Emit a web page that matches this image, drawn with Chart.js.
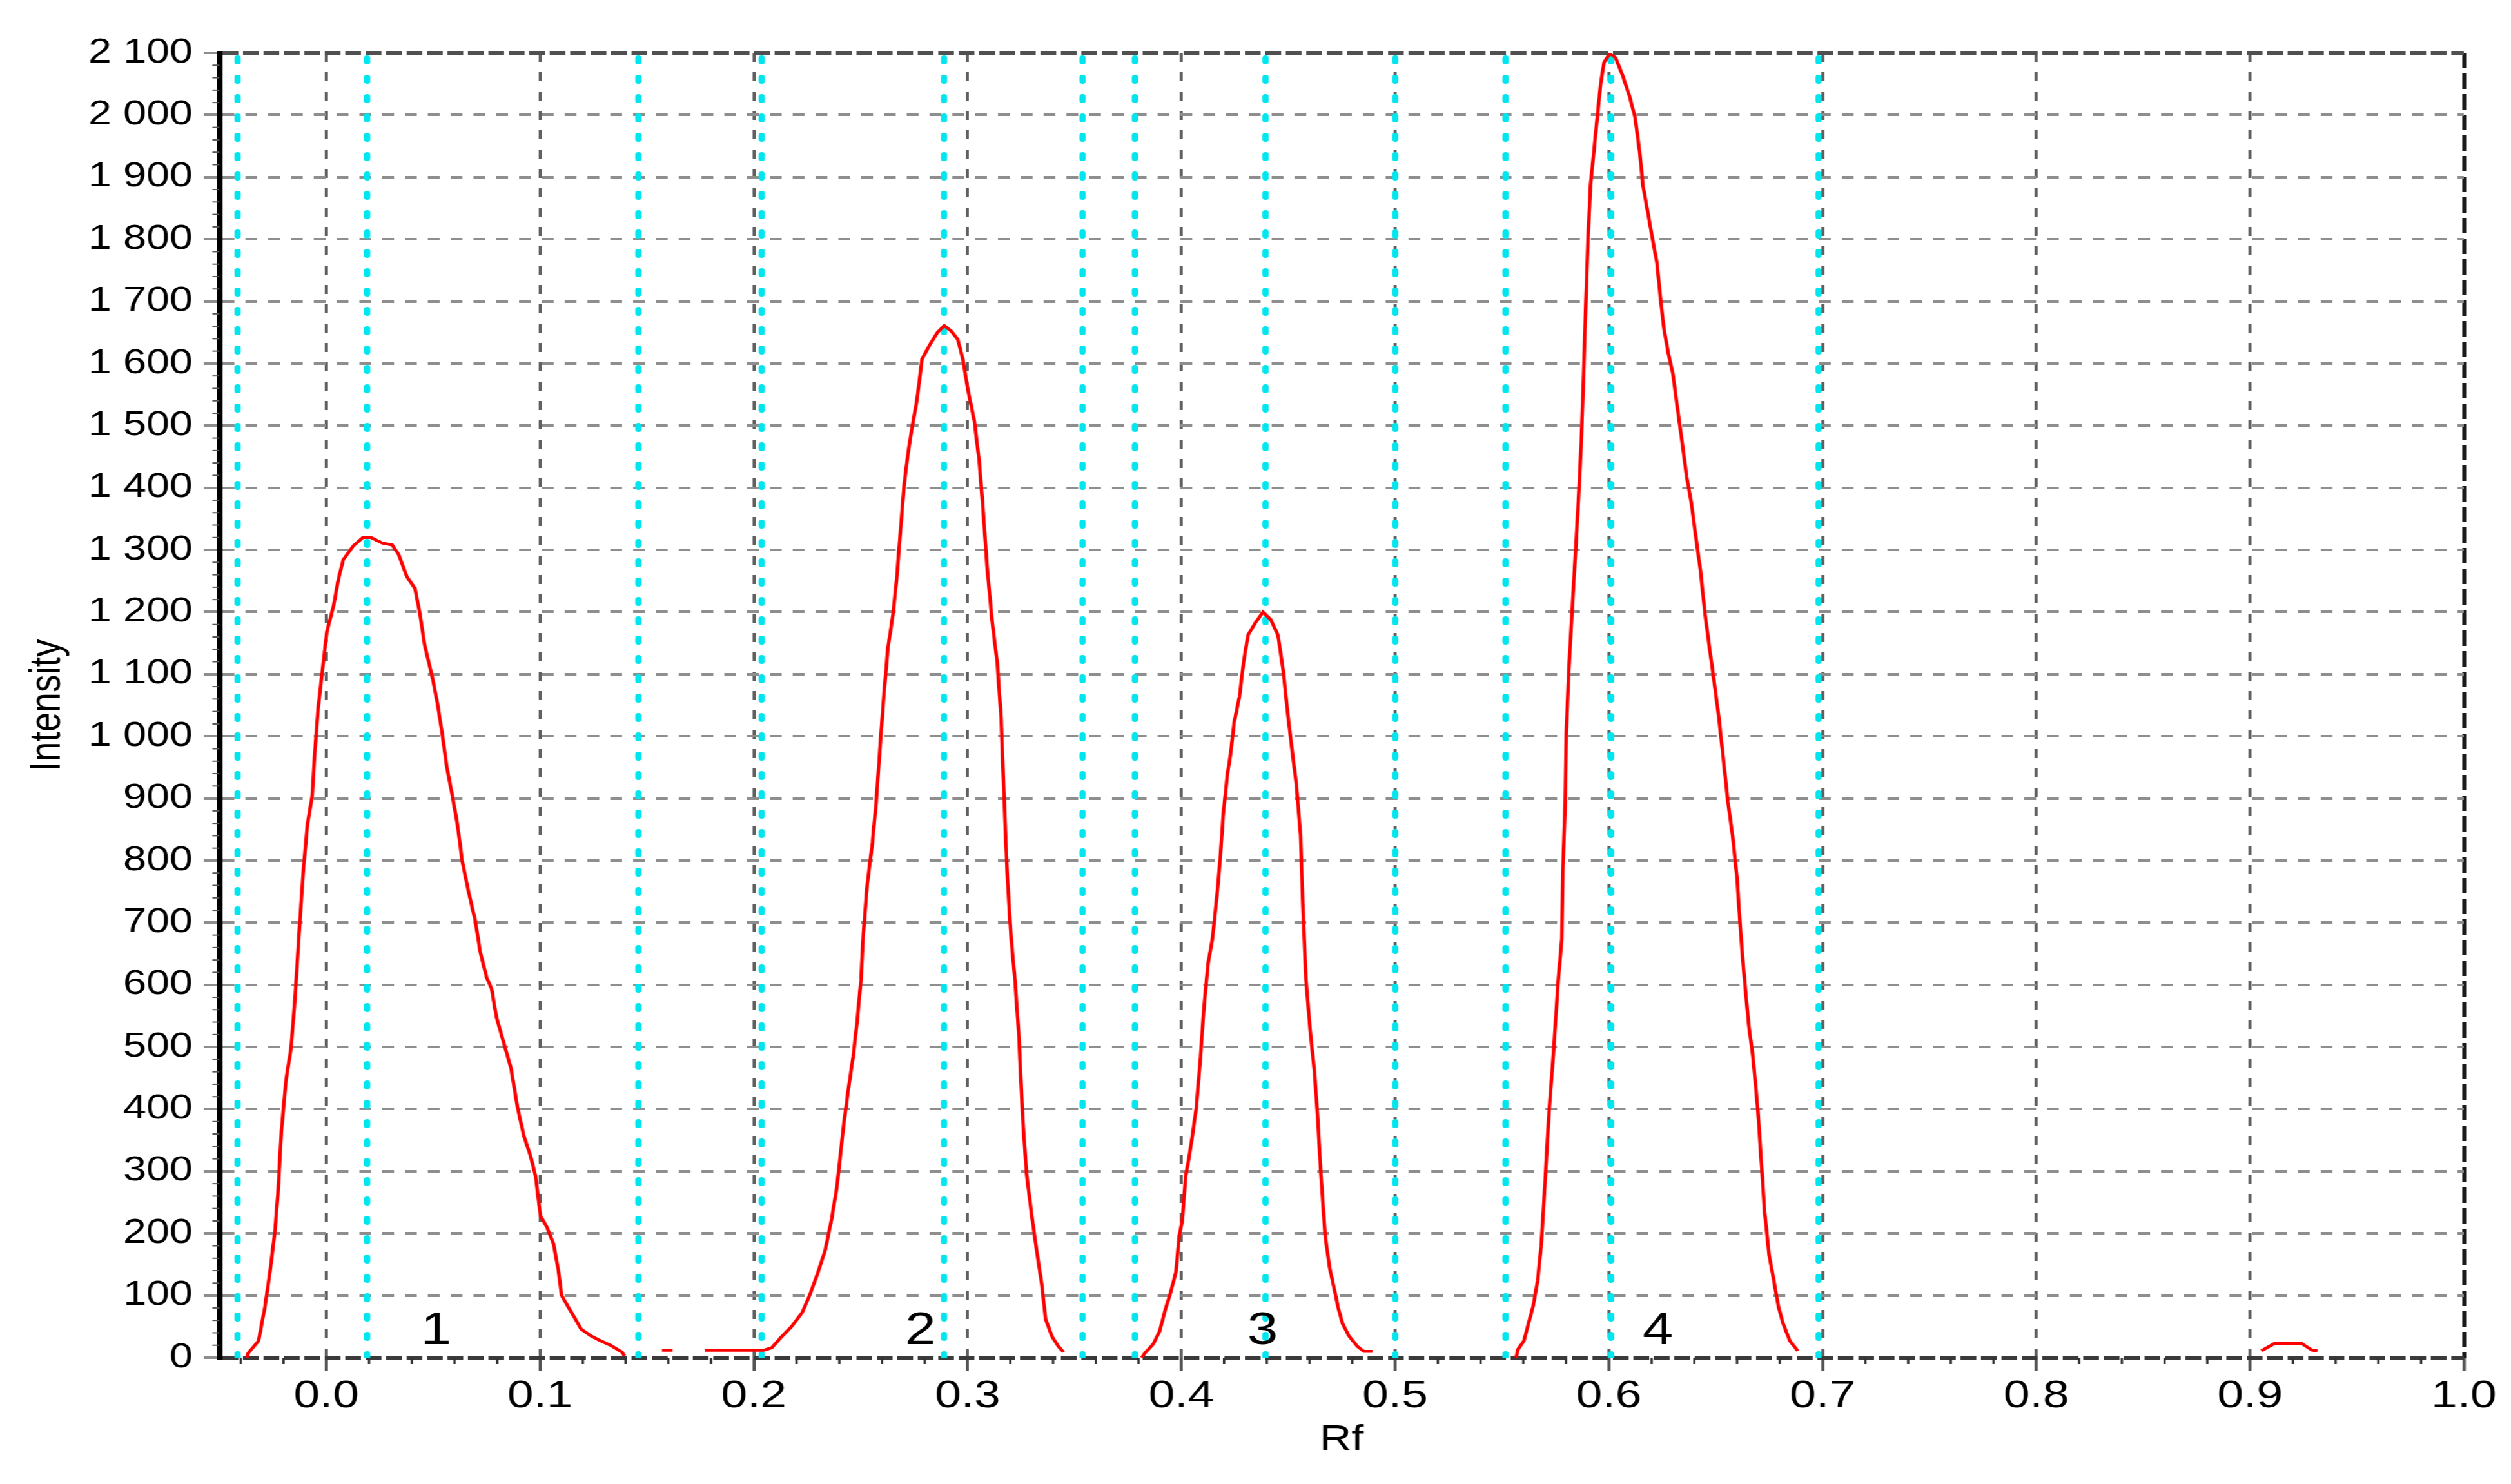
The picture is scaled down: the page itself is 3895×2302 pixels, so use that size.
<!DOCTYPE html>
<html>
<head>
<meta charset="utf-8">
<script src="https://cdn.jsdelivr.net/npm/chart.js@4.4.1/dist/chart.umd.min.js"></script>
<style>
  html, body { margin: 0; padding: 0; background: #ffffff; overflow: hidden; }
  #wrap { width: 3895px; height: 2302px; overflow: hidden; background: #ffffff; }
  #c { transform: scaleX(1.21986); transform-origin: 0 0; }
</style>
</head>
<body>
<div id="wrap"><canvas id="c" width="3193" height="2302"></canvas></div>
<script>
// ---------- data ----------
const peak1Rf = [-0.0370, -0.0366, -0.0317, -0.0287, -0.0264, -0.0241, -0.0226, -0.0210, -0.0188, -0.0165, -0.0146, -0.0127, -0.0107, -0.0088, -0.0066, -0.0055, -0.0038, -0.0020, 0.0003, 0.0034, 0.0056, 0.0079, 0.0125, 0.0171, 0.0209, 0.0262, 0.0308, 0.0338, 0.0377, 0.0415, 0.0438, 0.0460, 0.0498, 0.0521, 0.0544, 0.0564, 0.0590, 0.0613, 0.0636, 0.0666, 0.0697, 0.0720, 0.0750, 0.0773, 0.0796, 0.0834, 0.0864, 0.0895, 0.0925, 0.0956, 0.0979, 0.1002, 0.1032, 0.1063, 0.1085, 0.1101, 0.1131, 0.1162, 0.1192, 0.1238, 0.1284, 0.1329, 0.1383, 0.1395];
const peak1Intensity = [0, 7, 27, 82, 137, 201, 265, 365, 448, 498, 580, 685, 786, 859, 904, 968, 1046, 1101, 1169, 1210, 1252, 1284, 1306, 1320, 1320, 1311, 1308, 1293, 1257, 1238, 1197, 1147, 1092, 1051, 1000, 950, 904, 859, 799, 749, 703, 653, 612, 594, 548, 502, 466, 402, 356, 324, 292, 228, 210, 183, 142, 100, 82, 64, 46, 35, 27, 20, 9, 3];

const baselineRf = [0.1570, 0.1620];
const baselineIntensity = [12, 12];

const peak2Rf = [0.1770, 0.1900, 0.2048, 0.2084, 0.2131, 0.2179, 0.2227, 0.2262, 0.2298, 0.2334, 0.2364, 0.2388, 0.2406, 0.2418, 0.2441, 0.2465, 0.2483, 0.2501, 0.2513, 0.2531, 0.2555, 0.2573, 0.2591, 0.2609, 0.2627, 0.2651, 0.2668, 0.2686, 0.2704, 0.2722, 0.2740, 0.2763, 0.2787, 0.2823, 0.2859, 0.2891, 0.2924, 0.2954, 0.2978, 0.3002, 0.3032, 0.3055, 0.3073, 0.3091, 0.3115, 0.3139, 0.3157, 0.3169, 0.3186, 0.3204, 0.3222, 0.3240, 0.3258, 0.3276, 0.3300, 0.3323, 0.3347, 0.3365, 0.3395, 0.3425, 0.3449];
const peak2Intensity = [12, 12, 12, 16, 34, 51, 73, 101, 135, 173, 223, 273, 329, 368, 429, 485, 540, 607, 685, 763, 829, 896, 985, 1068, 1141, 1196, 1252, 1330, 1407, 1457, 1496, 1541, 1607, 1630, 1650, 1661, 1652, 1639, 1607, 1557, 1507, 1441, 1363, 1274, 1185, 1118, 1029, 918, 774, 674, 607, 518, 385, 296, 229, 173, 118, 62, 34, 18, 9];

const peak3Rf = [0.3815, 0.3829, 0.3869, 0.3899, 0.3924, 0.3950, 0.3975, 0.3990, 0.4005, 0.4020, 0.4035, 0.4050, 0.4070, 0.4090, 0.4105, 0.4125, 0.4146, 0.4166, 0.4181, 0.4196, 0.4216, 0.4231, 0.4247, 0.4272, 0.4292, 0.4312, 0.4347, 0.4382, 0.4418, 0.4452, 0.4477, 0.4497, 0.4517, 0.4538, 0.4558, 0.4568, 0.4583, 0.4603, 0.4623, 0.4638, 0.4653, 0.4673, 0.4693, 0.4714, 0.4734, 0.4754, 0.4784, 0.4824, 0.4854, 0.4895];
const peak3Intensity = [0, 7, 22, 43, 76, 105, 138, 196, 221, 291, 320, 353, 402, 485, 560, 634, 675, 741, 799, 874, 940, 973, 1022, 1064, 1121, 1163, 1183, 1200, 1188, 1163, 1105, 1039, 981, 923, 840, 733, 609, 526, 460, 386, 295, 196, 146, 113, 80, 55, 35, 18, 10, 10];

const peak4Rf = [0.5566, 0.5576, 0.5603, 0.5624, 0.5646, 0.5667, 0.5683, 0.5691, 0.5705, 0.5721, 0.5742, 0.5763, 0.5780, 0.5785, 0.5796, 0.5801, 0.5812, 0.5823, 0.5839, 0.5855, 0.5871, 0.5882, 0.5892, 0.5903, 0.5914, 0.5930, 0.5946, 0.5962, 0.5978, 0.6005, 0.6032, 0.6064, 0.6097, 0.6123, 0.6144, 0.6160, 0.6182, 0.6203, 0.6225, 0.6241, 0.6257, 0.6278, 0.6300, 0.6321, 0.6343, 0.6364, 0.6386, 0.6407, 0.6429, 0.6450, 0.6471, 0.6493, 0.6514, 0.6536, 0.6557, 0.6579, 0.6600, 0.6616, 0.6632, 0.6654, 0.6675, 0.6697, 0.6713, 0.6729, 0.6750, 0.6772, 0.6793, 0.6815, 0.6847, 0.6884];
const peak4Intensity = [0, 14, 27, 55, 83, 124, 179, 220, 303, 399, 495, 606, 674, 785, 895, 1005, 1101, 1170, 1266, 1362, 1473, 1583, 1693, 1803, 1886, 1941, 1996, 2051, 2085, 2099, 2092, 2064, 2030, 1996, 1941, 1886, 1844, 1803, 1762, 1707, 1658, 1617, 1583, 1528, 1473, 1418, 1376, 1321, 1266, 1197, 1142, 1087, 1032, 963, 895, 840, 771, 688, 619, 537, 482, 399, 317, 234, 165, 124, 83, 55, 27, 11];

const bumpRf = [0.9053, 0.9115, 0.9240, 0.9290, 0.9315];
const bumpIntensity = [11, 23, 23, 12, 11];

// peak start / max / end markers (cyan dotted lines)
const markerRf = [-0.0415, 0.0191, 0.1460, 0.2037, 0.2890, 0.3538, 0.3783, 0.4394, 0.5001, 0.5517, 0.6010, 0.6981];

// peak numbers
const peakLabelText = ['1', '2', '3', '4'];
const peakLabelRf = [0.0514, 0.2780, 0.4380, 0.6230];
const peakLabelIntensity = [42, 42, 42, 42];

// ticks
const xTickValues = [0.0, 0.1, 0.2, 0.3, 0.4, 0.5, 0.6, 0.7, 0.8, 0.9, 1.0];
const xTickLabels = ['0.0', '0.1', '0.2', '0.3', '0.4', '0.5', '0.6', '0.7', '0.8', '0.9', '1.0'];
const yTickValues = [0, 100, 200, 300, 400, 500, 600, 700, 800, 900, 1000, 1100, 1200, 1300, 1400, 1500, 1600, 1700, 1800, 1900, 2000, 2100];
const yTickLabels = ['0', '100', '200', '300', '400', '500', '600', '700', '800', '900', '1 000', '1 100', '1 200', '1 300', '1 400', '1 500', '1 600', '1 700', '1 800', '1 900', '2 000', '2 100'];
const xMin = -0.05, xMax = 1.0, yMin = 0, yMax = 2100;
const xMinorStep = 0.02, yMinorStep = 20;

// ---------- build datasets ----------
function pts(rf, val) { return rf.map((x, i) => ({ x: x, y: val[i] })); }
function gapAfter(rf) { return { x: rf[rf.length - 1] + 0.001, y: null }; }
const curveData = [].concat(
  pts(peak1Rf, peak1Intensity), [gapAfter(peak1Rf)],
  pts(baselineRf, baselineIntensity), [gapAfter(baselineRf)],
  pts(peak2Rf, peak2Intensity), [gapAfter(peak2Rf)],
  pts(peak3Rf, peak3Intensity), [gapAfter(peak3Rf)],
  pts(peak4Rf, peak4Intensity), [gapAfter(peak4Rf)],
  pts(bumpRf, bumpIntensity)
);
const markerData = [];
markerRf.forEach(m => { markerData.push({ x: m, y: yMin }, { x: m, y: yMax }, { x: m, y: null }); });

const FONT = "'Liberation Sans', Arial, Helvetica, sans-serif";
Chart.defaults.font.family = FONT;
Chart.defaults.color = '#000000';

const extrasPlugin = {
  id: 'extras',
  afterDraw(chart) {
    const ctx = chart.ctx;
    const xs = chart.scales.x, ys = chart.scales.y;
    const area = chart.chartArea;
    ctx.save();
    // minor ticks on x axis
    ctx.strokeStyle = '#333333';
    ctx.lineWidth = 3;
    for (let k = Math.ceil(xMin / xMinorStep); k * xMinorStep <= xMax + 1e-9; k++) {
      if (k % 5 === 0) continue;
      const px = xs.getPixelForValue(k * xMinorStep);
      ctx.beginPath(); ctx.moveTo(px, area.bottom); ctx.lineTo(px, area.bottom + 10); ctx.stroke();
    }
    // minor ticks on y axis
    ctx.strokeStyle = '#555555';
    ctx.lineWidth = 2;
    for (let k = 1; k * yMinorStep < yMax; k++) {
      if (k % 5 === 0) continue;
      const py = ys.getPixelForValue(k * yMinorStep);
      ctx.beginPath(); ctx.moveTo(area.left - 9, py); ctx.lineTo(area.left, py); ctx.stroke();
    }
    // peak numbers
    ctx.fillStyle = '#000000';
    ctx.font = '70px ' + FONT;
    ctx.textAlign = 'center';
    ctx.textBaseline = 'middle';
    peakLabelText.forEach((t, i) => {
      ctx.fillText(t, xs.getPixelForValue(peakLabelRf[i]), ys.getPixelForValue(peakLabelIntensity[i]));
    });
    ctx.restore();
  }
};

const isEdgeY = v => v === yMin || v === yMax;

new Chart(document.getElementById('c'), {
  type: 'line',
  data: {
    datasets: [
      {
        label: 'Intensity',
        data: curveData,
        borderColor: '#ff0000',
        borderWidth: 4.5,
        pointRadius: 0,
        tension: 0,
        spanGaps: false,
        fill: false,
        order: 0
      },
      {
        label: 'markers',
        data: markerData,
        borderColor: '#00e5ee',
        borderWidth: 8,
        borderDash: [6, 24],
        borderCapStyle: 'round',
        pointRadius: 0,
        tension: 0,
        spanGaps: false,
        fill: false,
        order: 1
      }
    ]
  },
  options: {
    responsive: false,
    maintainAspectRatio: false,
    animation: false,
    events: [],
    layout: { padding: { top: 82, right: 60, bottom: 0, left: 0 } },
    plugins: { legend: { display: false }, tooltip: { enabled: false } },
    scales: {
      x: {
        type: 'linear',
        min: xMin,
        max: xMax,
        afterBuildTicks: s => { s.ticks = xTickValues.map(v => ({ value: v })); },
        afterFit: s => { s.height = 196; },
        ticks: {
          autoSkip: false,
          maxRotation: 0,
          padding: 4,
          color: '#000000',
          font: { size: 60 },
          callback: (v, i) => xTickLabels[i]
        },
        grid: {
          color: c => (c.tick && c.tick.value === xMax) ? '#1a1a1a' : '#606060',
          lineWidth: c => (c.tick && c.tick.value === xMax) ? 5 : 4,
          drawTicks: true,
          tickLength: 20,
          tickColor: '#555555',
          tickWidth: 4
        },
        border: {
          display: false,
          dash: c => (c.tick && c.tick.value === xMax) ? [24, 8] : [14, 16]
        },
        title: {
          display: true,
          text: 'Rf',
          color: '#000000',
          font: { size: 56 },
          padding: { top: 0, bottom: 35 }
        }
      },
      y: {
        type: 'linear',
        min: yMin,
        max: yMax,
        afterBuildTicks: s => { s.ticks = yTickValues.map(v => ({ value: v })); },
        afterFit: s => { s.width = 279; },
        ticks: {
          autoSkip: false,
          padding: 14,
          color: '#000000',
          font: { size: 53 },
          callback: (v, i) => yTickLabels[i]
        },
        grid: {
          color: c => !c.tick ? '#8e8e8e' : (c.tick.value === yMin ? '#3a3a3a' : (c.tick.value === yMax ? '#505050' : '#8e8e8e')),
          lineWidth: c => (c.tick && isEdgeY(c.tick.value)) ? 6 : 4,
          drawTicks: true,
          tickLength: 20,
          tickColor: '#8e8e8e',
          tickWidth: 4
        },
        border: {
          display: true,
          color: '#000000',
          width: 7,
          dash: c => (c.tick && isEdgeY(c.tick.value)) ? [20, 6] : [15, 14]
        },
        title: {
          display: true,
          text: 'Intensity',
          color: '#000000',
          font: { size: 55 },
          padding: { top: 28, bottom: 0 }
        }
      }
    }
  },
  plugins: [extrasPlugin]
});
</script>
</body>
</html>
